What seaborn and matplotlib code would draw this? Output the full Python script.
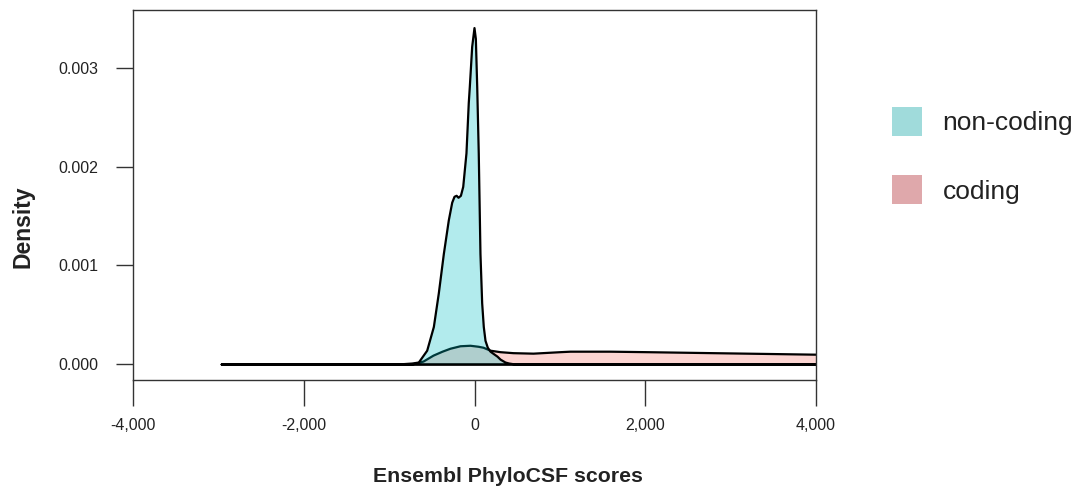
import numpy as np
import pandas as pd
import seaborn as sns
import matplotlib.pyplot as plt
from matplotlib.patches import Patch
from matplotlib.ticker import FuncFormatter

# density curves (score, density)
noncoding_x = [-2966, -1500, -900, -735, -658, -560, -482, -424, -365, -307, -267, -240, -215,
               -193, -165, -138, -100, -73, -61, -33, -6, 10, 26, 44, 64, 84, 103, 123, 150,
               182, 230, 263, 299, 357, 400, 474, 700, 2000, 4300]
noncoding_y = [0.0, 0.0, 0.0, 0.00001, 0.00002, 0.00014, 0.00038, 0.00072, 0.00112, 0.00146,
               0.00164, 0.0017, 0.00171, 0.00169, 0.00171, 0.0018, 0.00214, 0.00265, 0.00281,
               0.00322, 0.00341, 0.0033, 0.00281, 0.00214, 0.00112, 0.00062, 0.00038, 0.00024,
               0.00017, 0.00013, 0.0001, 0.00008, 0.00005, 0.00002, 0.00001, 0.0, 0.0, 0.0, 0.0]

coding_x = [-2966, -1500, -814, -720, -603, -486, -380, -287, -170, -53, 41, 100, 182, 299,
            450, 685, 1001, 1118, 1587, 2020, 2793, 3343, 3963, 4300]
coding_y = [0.0, 0.0, 0.0, 0.000003, 0.00003, 0.00009, 0.00013, 0.00016, 0.000185, 0.00019,
            0.00018, 0.00017, 0.00014, 0.000125, 0.000115, 0.00011, 0.000125, 0.00013, 0.00013,
            0.000125, 0.000115, 0.000108, 0.0001, 0.000097]

groups = ["coding", "non-coding"]
fill_colors = {"non-coding": "#00BFC4", "coding": "#F8766D"}
legend_colors = {"non-coding": "#a0dbdb", "coding": "#dfa8ab"}

sns.set_style("white")
plt.rcParams["font.family"] = ["Liberation Sans", "DejaVu Sans"]

fig = plt.figure(figsize=(10.78, 4.88), dpi=100)
ax = fig.add_axes([133 / 1078, 108 / 488, 683 / 1078, 370 / 488])

curves = {
    "coding": pd.DataFrame({"score": coding_x, "density": coding_y}),
    "non-coding": pd.DataFrame({"score": noncoding_x, "density": noncoding_y}),
}

# coding first, non-coding on top
for g in groups:
    d = curves[g]
    rgb = plt.matplotlib.colors.to_rgb(fill_colors[g])
    ax.fill_between(d["score"], d["density"], 0, facecolor=(*rgb, 0.3),
                    edgecolor="black", linewidth=1.6, zorder=2)

ax.set_xlim(-4000, 4000)
ax.set_ylim(-0.000162, 0.003588)
ax.set_xticks([-4000, -2000, 0, 2000, 4000])
ax.set_yticks([0, 0.001, 0.002, 0.003])
ax.xaxis.set_major_formatter(FuncFormatter(lambda v, p: f"{int(v):,}"))
ax.yaxis.set_major_formatter(FuncFormatter(lambda v, p: f"{v:.3f}"))

for s in ax.spines.values():
    s.set_color("#333333")
    s.set_linewidth(1.0)
    s.set_visible(True)
ax.tick_params(axis="x", direction="out", length=18.7, width=1.0, color="#333333",
               labelsize=11.5, labelcolor="#222222", pad=8.5, bottom=True)
ax.tick_params(axis="y", direction="out", length=12.2, width=1.0, color="#333333",
               labelsize=11.5, labelcolor="#222222", pad=13, left=True)

ax.set_xlabel("Ensembl PhyloCSF scores", fontsize=15.3, fontweight="bold", color="#222222")
ax.set_ylabel("Density", fontsize=16.5, fontweight="bold", color="#222222")
ax.xaxis.label.set_va("center")
ax.xaxis.set_label_coords((508 - 133) / 683, (380 - 476) / 370)
ax.yaxis.label.set_va("center")
ax.yaxis.label.set_ha("center")
ax.yaxis.set_label_coords((23 - 133) / 683, (380 - 227) / 370)

handles = [Patch(facecolor=legend_colors[g], edgecolor="none", label=g)
           for g in ["non-coding", "coding"]]
fig.legend(handles=handles, loc="upper left", bbox_to_anchor=(881 / 1078, 1 - 96 / 488),
           frameon=False, fontsize=19, handlelength=1.17, handleheight=1.32,
           handletextpad=0.76, labelspacing=1.5, labelcolor="#222222", borderaxespad=0)

plt.savefig("out.png", dpi=100)
